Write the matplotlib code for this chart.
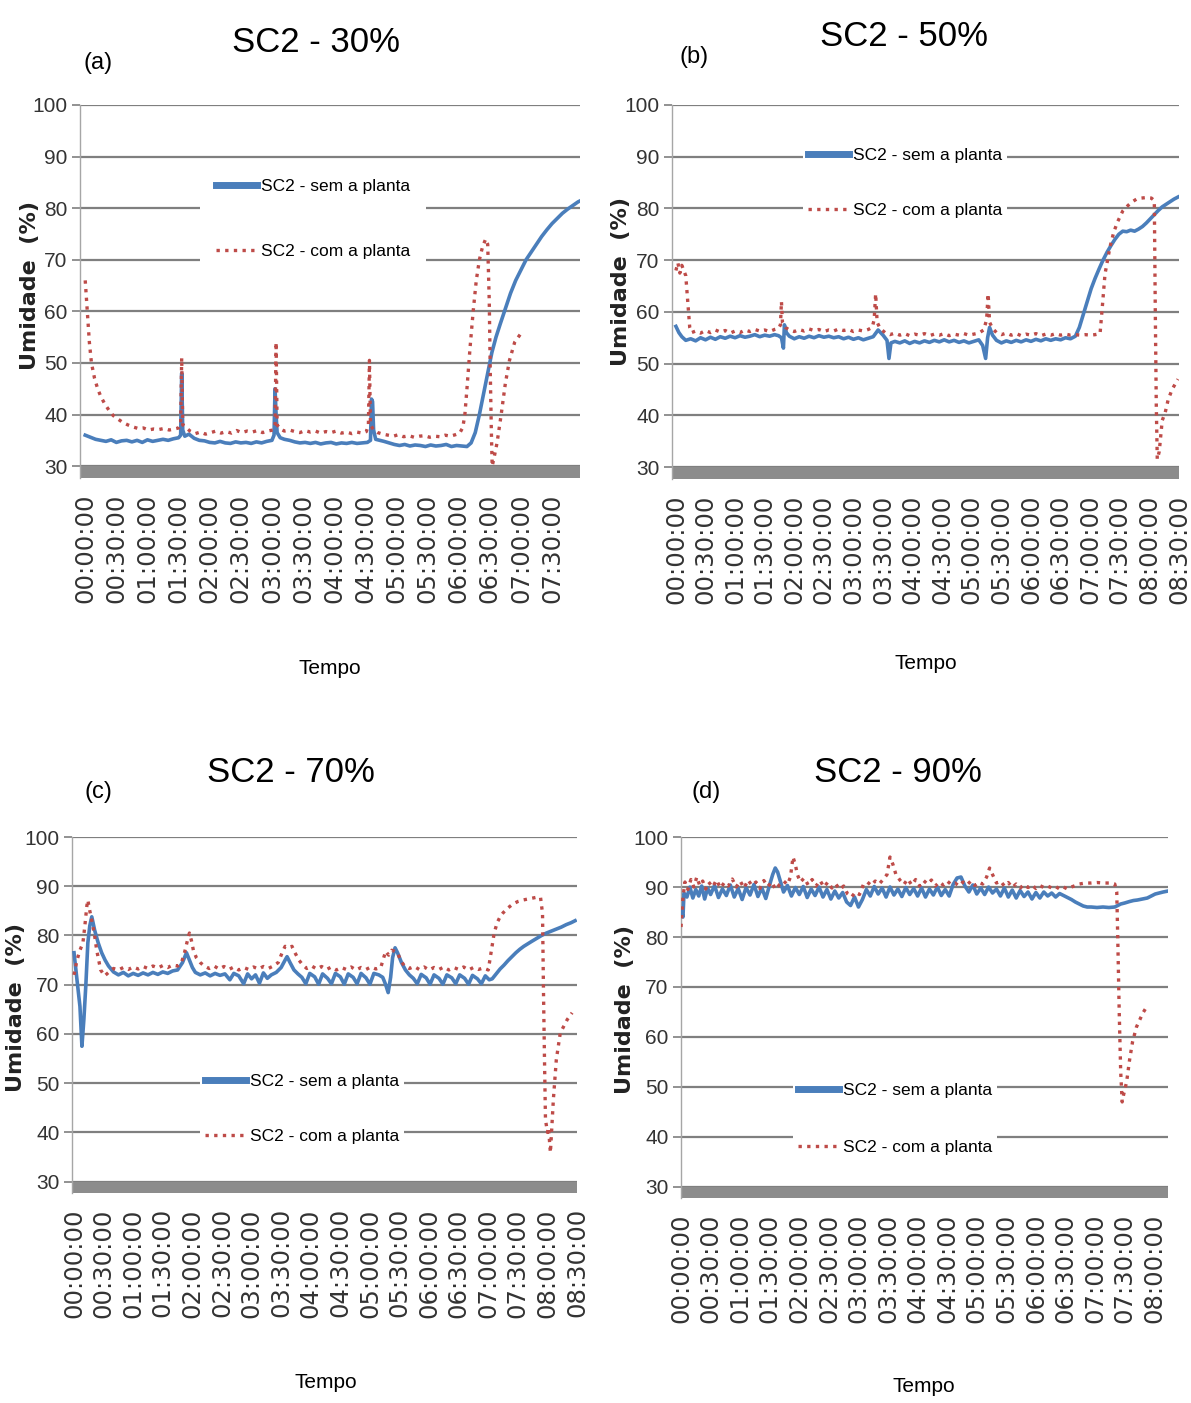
import matplotlib
matplotlib.use('Agg')
import matplotlib.pyplot as plt

# ---- data (minutes from start, relative humidity %) ----
TICK_MIN = [0, 30, 60, 90, 120, 150, 180, 210, 240, 270, 300, 330, 360, 390, 420, 450, 480, 510]
TICK_LABELS = ['00:00:00', '00:30:00', '01:00:00', '01:30:00', '02:00:00', '02:30:00',
               '03:00:00', '03:30:00', '04:00:00', '04:30:00', '05:00:00', '05:30:00',
               '06:00:00', '06:30:00', '07:00:00', '07:30:00', '08:00:00', '08:30:00']
Y_TICKS = [30, 40, 50, 60, 70, 80, 90, 100]

# (a) SC2 - 30%
TA_SEM = [0, 5, 10, 15, 20, 25, 30, 35, 40, 45, 50, 55, 60, 65, 70, 75, 80, 85, 90, 92,
          93, 94, 96, 100, 105, 110, 115, 120, 125, 130, 135, 140, 145, 150, 155, 160, 165, 170, 175, 180,
          182, 183, 184, 185, 188, 192, 197, 202, 207, 212, 217, 222, 227, 232, 237, 242, 247, 252, 257, 262,
          267, 272, 275, 276, 277, 278, 280, 284, 288, 293, 298, 303, 308, 313, 318, 323, 328, 333, 338, 343,
          348, 353, 358, 363, 368, 372, 376, 380, 384, 388, 392, 396, 400, 405, 410, 415, 420, 425, 430, 435,
          440, 445, 450, 455, 460, 465, 470, 475, 478]
UA_SEM = [36.0, 35.6, 35.2, 35.0, 34.8, 35.1, 34.6, 34.9, 35.0, 34.7, 35.0, 34.6, 35.1, 34.8, 35.0, 35.2, 35.0, 35.3, 35.5, 36.0,
          48.0, 37.0, 35.8, 36.2, 35.4, 35.0, 34.9, 34.6, 34.5, 34.8, 34.5, 34.4, 34.7, 34.5, 34.6, 34.4, 34.7, 34.5, 34.8, 35.0,
          36.0, 45.0, 40.0, 36.5, 35.5, 35.2, 35.0, 34.7, 34.5, 34.6, 34.4, 34.6, 34.3, 34.5, 34.6, 34.3, 34.5, 34.4, 34.6, 34.4,
          34.5, 34.6, 35.0, 43.0, 42.5, 37.0, 35.2, 35.0, 34.8, 34.5, 34.2, 34.0, 34.2, 33.9, 34.1, 34.0, 33.8, 34.1, 33.9, 34.0,
          34.2, 33.8, 34.0, 33.9, 33.8, 34.5, 36.5, 40.0, 44.0, 48.0, 52.0, 55.0, 57.5, 60.5, 63.5, 66.0, 68.0, 70.0, 71.5, 73.0,
          74.5, 75.8, 77.0, 78.0, 79.0, 79.8, 80.5, 81.2, 81.5]
TA_COM = [0, 2, 4, 6, 9, 12, 15, 19, 23, 27, 31, 36, 41, 46, 51, 56, 61, 66, 71, 76,
          81, 86, 90, 92, 93, 94, 97, 101, 106, 111, 116, 121, 126, 131, 136, 141, 146, 151, 156, 161,
          166, 171, 176, 181, 183, 184, 185, 188, 192, 197, 202, 207, 212, 217, 222, 227, 232, 237, 242, 247,
          252, 257, 262, 267, 271, 273, 274, 275, 278, 282, 287, 292, 297, 302, 307, 312, 317, 322, 327, 332,
          337, 342, 347, 352, 357, 361, 364, 366, 368, 371, 374, 377, 380, 383, 386, 388, 389.5, 390.5, 391.5, 392.3,
          394, 397, 401, 405, 409, 414, 421]
UA_COM = [66, 60, 54, 50, 47, 45, 43.5, 42, 40.8, 39.8, 39.2, 38.5, 38, 37.6, 37.3, 37.4, 37.0, 37.2, 37.1, 37.3,
          37.0, 37.2, 37.4, 38, 51, 38, 37.5, 36.8, 36.3, 36.6, 36.2, 36.5, 36.8, 36.4, 36.7, 36.4, 36.9, 36.5, 36.8, 36.6,
          36.9, 36.5, 36.8, 37, 38, 54, 38, 37.2, 36.8, 37.0, 36.7, 36.5, 36.9, 36.6, 36.8, 36.4, 36.7, 36.5, 36.8, 36.4,
          36.6, 36.3, 36.6, 36.4, 36.7, 38, 50.5, 38, 37.0, 36.5, 36.2, 36.0, 35.8, 36.1, 35.7, 35.9, 35.6, 35.8, 35.9, 35.6,
          35.8, 35.7, 36.0, 35.8, 36.1, 36.4, 37.5, 40, 45, 53, 60, 66, 70, 72.5, 74, 73, 62, 48, 37, 30,
          31.5, 34.5, 40, 46, 50.5, 54, 56]

# (b) SC2 - 50%
TB_SEM = [0, 3, 6, 10, 15, 20, 25, 30, 35, 40, 45, 50, 55, 60, 65, 70, 75, 80, 85, 90,
          95, 100, 104, 107, 109, 110, 112, 115, 120, 125, 130, 135, 140, 145, 150, 155, 160, 165, 170, 175,
          180, 185, 190, 195, 200, 205, 210, 214, 216, 218, 222, 227, 232, 237, 242, 247, 252, 257, 262, 267,
          272, 277, 282, 287, 292, 297, 302, 307, 311, 314, 316, 318, 321, 325, 330, 335, 340, 345, 350, 355,
          360, 365, 370, 375, 380, 385, 390, 395, 400, 405, 409, 413, 417, 421, 425, 429, 433, 437, 441, 445,
          449, 453, 457, 461, 465, 469, 473, 477, 481, 485, 489, 493, 497, 501, 505, 509]
UB_SEM = [57.2, 56.0, 55.2, 54.5, 54.8, 54.4, 55.0, 54.6, 55.1, 54.7, 55.2, 54.9, 55.3, 55.0, 55.4, 55.1, 55.3, 55.6, 55.2, 55.5,
          55.3, 55.6, 55.4, 55.0, 53.0, 57.5, 56.0, 55.3, 54.8, 55.2, 54.9, 55.3, 55.0, 55.4, 55.1, 55.3, 55.0, 55.2, 54.8, 55.1,
          54.7, 55.0, 54.6, 54.9, 55.2, 56.5, 55.5, 54.5, 51.0, 54.0, 54.3, 54.0, 54.4, 53.9, 54.3, 54.0, 54.4, 54.1, 54.5, 54.2,
          54.6, 54.2, 54.5, 54.1, 54.4, 54.0, 54.3, 54.6, 53.5, 51.0, 55.0, 57.0, 55.5, 54.5, 54.0, 54.4, 54.1, 54.5, 54.2, 54.6,
          54.3, 54.7, 54.4, 54.8, 54.5, 54.8, 54.6, 55.0, 54.8, 55.3, 57.0, 59.5, 62.0, 64.5, 66.5, 68.3, 70.0, 71.5, 72.8, 74.0,
          75.0, 75.6, 75.5, 75.8, 75.6, 76.0, 76.5, 77.2, 78.0, 78.8, 79.6, 80.3, 80.8, 81.3, 81.8, 82.2]
TB_COM = [0, 2, 4, 6, 8, 10, 12, 14, 16, 20, 25, 30, 35, 40, 45, 50, 55, 60, 65, 70,
          75, 80, 85, 90, 95, 100, 104, 106, 107, 108, 111, 115, 120, 125, 130, 135, 140, 145, 150, 155,
          160, 165, 170, 175, 180, 185, 190, 195, 199, 201, 202.5, 204, 207, 212, 217, 222, 227, 232, 237, 242,
          247, 252, 257, 262, 267, 272, 277, 282, 287, 292, 297, 302, 307, 312, 315, 316.5, 318, 321, 325, 330,
          335, 340, 345, 350, 355, 360, 365, 370, 375, 380, 385, 390, 395, 400, 405, 410, 415, 420, 425, 430,
          432, 435, 440, 444, 448, 453, 458, 462, 467, 472, 477, 482, 485, 486, 487, 488, 490, 493, 496, 499,
          503, 509]
UB_COM = [68.0, 69.5, 67.5, 69.0, 68.0, 67.0, 62.0, 57.0, 56.0, 56.3, 55.9, 56.4, 56.0, 56.5, 56.1, 56.4, 55.9, 56.3, 56.0, 56.5,
          56.2, 56.6, 56.3, 56.5, 56.2, 56.6, 56.8, 57.5, 62.0, 58.0, 57.0, 56.5, 56.2, 56.6, 56.3, 56.7, 56.4, 56.6, 56.2, 56.5,
          56.3, 56.7, 56.4, 56.6, 56.2, 56.5, 56.3, 56.6, 57.0, 58.5, 63.5, 58.0, 56.8, 56.0, 55.6, 55.9, 55.5, 55.8, 55.4, 55.7,
          55.5, 55.8, 55.4, 55.7, 55.5, 55.8, 55.4, 55.7, 55.5, 55.8, 55.5, 55.7, 55.9, 56.5, 58.5, 63.5, 58.0, 56.8, 56.0, 55.6,
          55.9, 55.5, 55.8, 55.4, 55.7, 55.5, 55.8, 55.4, 55.7, 55.5, 55.8, 55.5, 55.7, 55.5, 55.6, 55.5, 55.6, 55.5, 55.6, 55.8,
          60.3, 67.3, 72.5, 75.5, 77.5, 79.5, 80.5, 81.2, 81.8, 82.0, 82.1, 82.0, 81.5, 60.0, 42.0, 31.5, 33.0, 39.0, 40.5, 43.0,
          45.0, 47.0]

# (c) SC2 - 70%
TC_SEM = [0, 3, 6, 8, 10, 12, 14, 16, 18, 21, 24.5, 28, 31.5, 35, 40, 45, 50, 55, 60, 65,
          70, 75, 80, 85, 90, 95, 100, 105, 110, 114, 117, 120, 123, 128, 133, 138, 143, 148, 153, 158,
          162, 167, 172, 176, 180, 184, 188, 192, 196, 200, 205, 210, 214, 216, 219, 223, 227, 231, 235, 239,
          244, 248, 252, 257, 261, 265, 270, 274, 278, 283, 287, 291, 296, 300, 304, 309, 313, 316, 318.5, 321,
          323, 325.5, 328, 332, 336, 340, 344, 348, 352, 357, 361, 365, 370, 374, 378, 383, 387, 391, 396, 400,
          404, 409, 413, 417, 421, 424, 428, 432, 436, 440, 444, 448, 452, 456, 460, 464, 469, 474, 479, 484,
          489, 494, 499, 504, 508]
UC_SEM = [76.5, 71.0, 65.6, 57.5, 63.0, 70.0, 78.5, 82.0, 83.8, 81.0, 78.5, 76.5, 75.0, 73.8, 72.6, 72.0, 72.5, 71.8, 72.3, 71.9,
          72.4, 72.0, 72.5, 72.1, 72.6, 72.3, 72.8, 73.0, 74.5, 76.5, 75.0, 73.5, 72.5, 72.0, 72.4, 71.8, 72.3, 71.9, 72.2, 71.0,
          72.3, 71.8, 70.2, 72.2, 71.2, 72.0, 70.3, 72.4, 71.3, 72.0, 72.5, 73.5, 75.0, 75.7, 74.5, 73.0, 72.2, 71.5, 70.2, 72.3,
          71.6, 70.1, 72.2, 71.3, 70.2, 72.3, 71.6, 70.1, 72.2, 71.5, 70.2, 72.3, 71.4, 70.1, 72.3, 72.0, 71.5, 70.0, 68.4, 71.5,
          75.5, 77.5, 76.5, 74.5, 73.0, 72.0, 71.3, 70.2, 72.1, 71.4, 70.1, 72.0, 71.3, 70.1, 72.0, 71.4, 70.2, 72.0, 71.3, 70.1,
          71.9, 71.2, 70.2, 71.8, 71.0, 71.2, 72.2, 73.2, 74.0, 74.9, 75.7, 76.5, 77.2, 77.8, 78.3, 78.8, 79.4, 80.0, 80.5, 80.9,
          81.3, 81.7, 82.2, 82.6, 83.0]
TC_COM = [0, 3, 6, 9, 11, 13, 14, 16, 18, 20.5, 23, 27, 31, 35, 40, 45, 50, 55, 60, 65,
          70, 75, 80, 85, 90, 95, 100, 105, 109, 112, 115, 117, 119, 121, 124, 128, 132, 137, 142, 147,
          152, 157, 162, 167, 172, 177, 182, 187, 192, 197, 202, 207, 211, 214, 218, 221, 224, 228, 232, 236,
          241, 246, 251, 256, 261, 266, 271, 276, 281, 286, 291, 296, 301, 306, 311, 314, 316, 319, 322, 325,
          328, 331, 335, 340, 345, 350, 355, 360, 365, 370, 375, 380, 385, 390, 395, 400, 405, 410, 415, 420,
          422, 424, 426, 429, 432, 435, 440, 445, 450, 455, 460, 465, 470, 473, 475, 476, 477, 478, 480, 481,
          483, 486, 489, 493, 500, 505]
UC_COM = [72.0, 75.0, 77.0, 78.5, 82.0, 86.0, 87.2, 85.0, 83.0, 80.5, 77.0, 73.0, 71.8, 72.5, 73.3, 73.0, 73.5, 73.1, 73.6, 73.2,
          73.7, 73.3, 73.8, 73.4, 73.9, 73.5, 74.0, 73.8, 74.5, 76.5, 79.0, 80.5, 79.0, 77.0, 75.5, 74.5, 73.8, 73.3, 73.8, 73.2,
          73.7, 73.1, 73.6, 73.0, 73.5, 73.1, 73.6, 73.2, 73.7, 73.3, 73.8, 74.5, 76.5, 77.8, 77.5, 77.8, 76.5, 75.0, 74.0, 73.3,
          73.8, 73.2, 73.7, 73.1, 73.6, 73.0, 73.5, 73.1, 73.6, 73.0, 73.5, 73.1, 73.6, 73.2, 73.5, 75.5, 76.8, 76.0, 77.0, 76.8,
          76.5, 75.0, 73.8, 73.3, 73.7, 73.1, 73.6, 73.0, 73.5, 73.1, 73.6, 73.0, 73.5, 73.1, 73.6, 73.0, 73.5, 73.1, 73.4, 73.0,
          75.5, 78.0, 80.5, 82.6, 83.8, 84.6, 85.6, 86.4, 86.9, 87.2, 87.4, 87.6, 87.8, 87.7, 84.5, 68.4, 54.8, 42.6, 40.0, 41.0,
          35.9, 46.7, 54.8, 60.2, 62.9, 64.3]

# (d) SC2 - 90%
TD_SEM = [0, 2, 3, 6, 9, 12, 15, 18, 21, 24, 27, 30, 34, 38, 42, 46, 50, 54, 58, 62,
          66, 70, 74, 78, 82, 86, 90, 93, 95.6, 98, 101, 104, 108, 112, 116, 120, 124, 128, 132, 136,
          140, 144, 148, 152, 156, 160, 164, 168, 172, 176, 180, 184, 188, 192, 196, 200, 204, 208, 212, 216,
          220, 224, 228, 232, 236, 240, 244, 248, 252, 256, 260, 264, 268, 272, 276, 280, 284, 288, 292, 296,
          300, 304, 308, 312, 316, 320, 324, 328, 332, 336, 340, 344, 348, 352, 356, 360, 364, 368, 372, 376,
          380, 384, 388, 392, 396, 400, 404, 408, 412, 416, 422, 428, 434, 440, 443, 446, 450, 455, 459, 463,
          468, 473, 477, 481, 485, 489, 494]
UD_SEM = [85.4, 84.0, 88.8, 88.0, 90.0, 87.8, 89.5, 88.2, 90.2, 87.6, 89.8, 88.5, 90.3, 87.9, 89.6, 88.3, 90.4, 88.0, 89.7, 87.5,
          89.9, 88.4, 90.5, 88.1, 89.8, 87.7, 90.5, 92.5, 93.8, 93.0, 91.0, 89.0, 90.3, 88.2, 89.9, 88.5, 90.1, 87.9, 89.6, 88.3,
          90.0, 88.0, 89.5, 87.6, 89.2, 87.8, 88.9, 87.0, 86.3, 88.0, 86.0, 87.5, 89.5, 88.2, 90.1, 88.6, 89.8, 88.0, 90.0, 88.4,
          89.6, 88.1, 89.9, 88.5, 89.7, 88.2, 89.8, 88.0, 89.6, 88.4, 90.0, 88.3, 89.5, 88.2, 90.5, 91.8, 92.0, 90.2, 89.0, 90.4,
          88.6, 89.8, 88.5, 90.0, 88.8, 89.6, 88.2, 89.8, 88.0, 89.4, 87.8, 89.3, 88.1, 89.0, 87.6, 88.9, 87.8, 89.0, 88.2, 88.8,
          88.0, 88.7, 88.3, 87.9, 87.5, 87.0, 86.6, 86.2, 86.0, 86.0, 85.9, 86.0, 85.9, 86.0, 86.3, 86.6, 86.8, 87.1, 87.3, 87.4,
          87.6, 87.8, 88.2, 88.6, 88.8, 89.0, 89.2]
TD_COM = [0, 2, 4, 7, 10, 13, 16, 19, 22, 25, 28, 32, 36, 40, 44, 48, 52, 56, 60, 64,
          68, 72, 76, 80, 84, 88, 92, 96, 100, 104, 108, 111, 113.6, 116, 118, 121, 125, 129, 133, 137,
          141, 145, 149, 153, 157, 161, 165, 169, 173, 177, 181, 185, 189, 193, 197, 201, 205, 209, 212, 215,
          218, 222, 226, 230, 234, 238, 242, 246, 250, 254, 258, 262, 266, 270, 274, 278, 282, 286, 290, 294,
          298, 302, 306, 310, 313, 316, 320, 324, 328, 332, 336, 340, 344, 348, 352, 356, 360, 364, 368, 372,
          376, 380, 384, 388, 392, 396, 400, 404, 410, 416, 422, 428, 434, 440, 442, 443, 444.5, 446, 447.5, 449,
          452, 455, 458, 462, 468.5, 473.5]
UD_COM = [82.0, 88.0, 91.0, 89.5, 91.5, 90.0, 92.0, 90.3, 91.2, 89.6, 91.0, 90.0, 91.4, 89.8, 90.9, 90.2, 91.6, 90.0, 91.2, 89.8,
          91.4, 90.3, 91.0, 89.7, 91.3, 90.1, 91.0, 89.5, 90.5, 91.2, 90.5, 92.0, 96.0, 94.5, 92.5, 91.0, 91.8, 90.4, 91.5, 90.2,
          91.3, 90.0, 91.0, 89.8, 90.6, 89.5, 90.2, 88.6, 88.0, 89.0, 88.5, 90.5, 91.0, 90.3, 91.2, 90.6, 91.5, 92.5, 96.0, 94.5,
          92.5, 91.4, 90.5, 91.6, 90.4, 91.5, 90.2, 91.3, 90.6, 91.4, 90.2, 91.0, 90.4, 91.2, 90.5, 90.8, 90.2, 91.0, 90.4, 91.2,
          90.3, 91.0, 90.6, 92.0, 93.8, 92.5, 90.8, 91.2, 90.2, 90.9, 89.9, 90.6, 89.8, 90.5, 89.9, 90.4, 89.7, 90.3, 89.9, 90.2,
          89.8, 90.1, 89.6, 90.0, 89.6, 90.0, 90.3, 90.6, 90.8, 90.8, 90.9, 90.8, 90.8, 90.6, 89.0, 80.0, 65.0, 53.0, 47.0, 48.5,
          51.0, 55.4, 59.0, 62.0, 64.8, 66.4]

PANELS = [
    ('SC2 - 30%', '(a)', TA_SEM, UA_SEM, TA_COM, UA_COM, 16, 477),
    ('SC2 - 50%', '(b)', TB_SEM, UB_SEM, TB_COM, UB_COM, 18, 510),
    ('SC2 - 70%', '(c)', TC_SEM, UC_SEM, TC_COM, UC_COM, 18, 510),
    ('SC2 - 90%', '(d)', TD_SEM, UD_SEM, TD_COM, UD_COM, 17, 494),
]

W, H = 1191, 1403
BLUE = '#4A7EBB'
RED = '#BE4B48'
SANS = 'Liberation Sans'


def fx(x, y):
    return x / W, 1 - y / H


# axes boxes [left, bottom, width, height] and pixel anchors for texts
AX_BOX = [[0.0672, 0.6593, 0.4198, 0.2659],
          [0.5642, 0.6586, 0.4257, 0.2666],
          [0.0605, 0.1497, 0.4240, 0.2537],
          [0.5718, 0.1458, 0.4089, 0.2576]]
X_START = [-5, -4, -2, 0]
TITLE_XY = [(316, 42), (904, 37), (291, 773), (898, 773)]
TAG_XY = [(98, 63), (694, 57), (98, 792), (706, 792)]
TEMPO_XY = [(330, 668), (926, 663), (326, 1382), (924, 1387)]
YLAB_XY = [(30, 285), (621, 282), (16, 1008), (625, 1010)]
LEG_XY = [(313, 219), (905, 183), (302, 1109), (895, 1119)]
LEG_SPACING = [2.9, 2.3, 2.3, 2.45]
LEG_PAD = [0.9, 0.3, 0.3, 0.3]

fig = plt.figure(figsize=(W / 100, H / 100), dpi=100)

for i, (title, tag, ts, us, tc, uc, nt, xmax) in enumerate(PANELS):
    ax = fig.add_axes(AX_BOX[i])
    ax.set_xlim(X_START[i], xmax)
    ax.set_ylim(27.7, 100)
    ax.axhspan(27.7, 30, color='#8C8C8C', lw=0, zorder=1)

    ax.plot(ts, us, color=BLUE, lw=2.6, solid_joinstyle='round', zorder=3,
            label='SC2 - sem a planta')
    ax.plot(tc, uc, color=RED, lw=2.4, linestyle=(0, (1, 1.6)), zorder=4,
            label='SC2 - com a planta')

    ax.set_yticks(Y_TICKS)
    ax.yaxis.grid(True, color='#7F7F7F', lw=1.6, zorder=0)
    ax.set_axisbelow(True)
    ax.tick_params(axis='y', length=6, width=1.2, color='#7F7F7F', pad=3)
    for lab in ax.get_yticklabels():
        lab.set_family(SANS)
        lab.set_fontsize(15)
        lab.set_color('#333333')

    ax.set_xticks(TICK_MIN[:nt])
    ax.set_xticklabels(TICK_LABELS[:nt], rotation=90, fontsize=17.5, color='#333333')
    ax.tick_params(axis='x', length=0, pad=11)

    for s in ['top', 'right', 'bottom']:
        ax.spines[s].set_visible(False)
    ax.spines['left'].set_color('#A6A6A6')
    ax.spines['left'].set_linewidth(1.0)

    leg = ax.legend(loc='center', bbox_to_anchor=fx(*LEG_XY[i]), bbox_transform=fig.transFigure,
                    frameon=True, fancybox=False, framealpha=1, facecolor='white', edgecolor='none',
                    prop={'family': SANS, 'size': 12.5}, handlelength=2.4, handletextpad=0.2,
                    labelspacing=LEG_SPACING[i], borderpad=LEG_PAD[i], borderaxespad=0)
    leg.get_lines()[0].set_linewidth(5)
    leg.set_zorder(5)

    fig.text(*fx(*TITLE_XY[i]), title, ha='center', va='center', fontsize=25, family=SANS)
    fig.text(*fx(*TAG_XY[i]), tag, ha='center', va='center', fontsize=17, family=SANS)
    fig.text(*fx(*TEMPO_XY[i]), 'Tempo', ha='center', va='center', fontsize=15, family=SANS)
    fig.text(*fx(*YLAB_XY[i]), 'Umidade  (%)', ha='center', va='center', rotation=90,
             fontsize=16, fontweight='bold', color='#222222')

fig.savefig('out.png', dpi=100)
